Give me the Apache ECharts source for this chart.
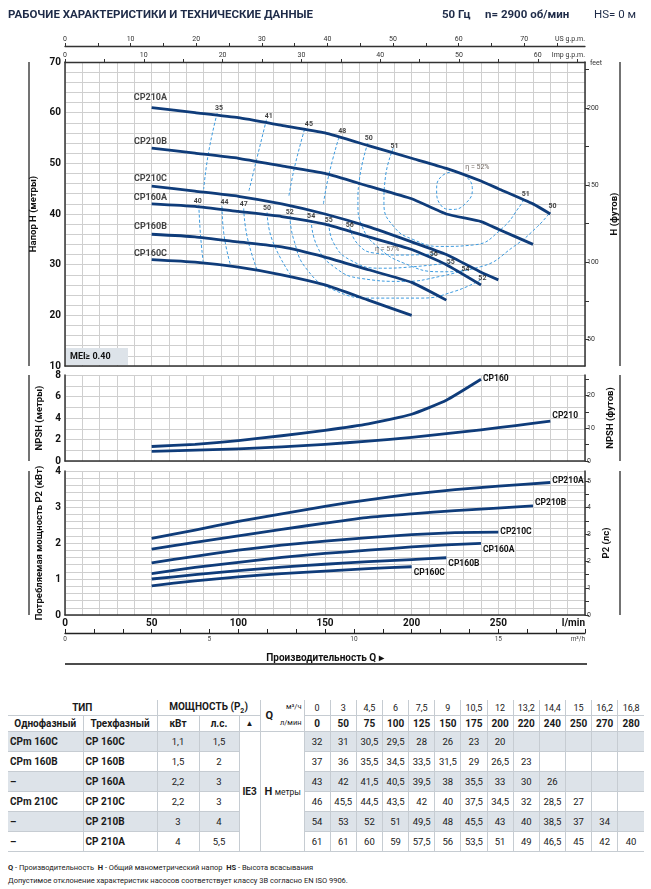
<!DOCTYPE html>
<html>
<head>
<meta charset="utf-8">
<title>CP 160 / CP 210</title>
<script src="https://cdn.jsdelivr.net/npm/echarts@6.0.0/dist/echarts.min.js"></script>
<style>
  body { margin: 0; background: #fff; width: 651px; height: 889px; overflow: hidden; font-family: Roboto, "Open Sans", sans-serif; color: #1a1a1a; }
  #chart { position: absolute; left: 0; top: 0; width: 651px; height: 700px; }
  #tbl { position: absolute; left: 8px; top: 700px; width: 636px; border-collapse: collapse; table-layout: fixed; }
  #tbl td { border: 1px solid #c6ccd2; padding: 0; text-align: center; font-size: 9.5px; height: 19px; white-space: nowrap; overflow: hidden; }
  #tbl tr.ha td { height: 15px; border-top: none; border-bottom: none; font-weight: bold; font-size: 10px; }
  #tbl tr.ha td.m3 { font-weight: normal; font-size: 9px; }
  #tbl tr.hb td { height: 15px; font-weight: bold; font-size: 10px; }
  #tbl tr.shade td { background: #dde3e9; }
  #tbl td.name { text-align: left; padding-left: 2px; font-weight: bold; font-size: 10px; }
  #tbl td.first { border-left: none; }
  #tbl td.last { border-right: none; }
  #tbl td.merged { background: #fff !important; font-weight: bold; position: relative; }
  .qq { position: absolute; left: 5px; top: 9px; font-size: 11px; font-weight: bold; }
  .u1 { position: absolute; right: 2px; top: 2px; font-size: 7.5px; font-weight: normal; }
  .u2 { position: absolute; right: 2px; top: 18px; font-size: 7.5px; font-weight: normal; }
  .note { position: absolute; left: 8px; font-size: 7.5px; color: #222; white-space: nowrap; }
</style>
</head>
<body>
<div id="chart"></div>
<table id="tbl"></table>
<div class="note" style="top:863px"><b>Q</b> - Производительность &nbsp;<b>H</b> - Общий манометрический напор &nbsp;<b>HS</b> - Высота всасывания</div>
<div class="note" style="top:876px">Допустимое отклонение характеристик насосов соответствует классу 3B согласно EN ISO 9906.</div>
<script>
// ---- data (l/min, m, kW) ----
var tableQm3 = ['0', '3', '4,5', '6', '7,5', '9', '10,5', '12', '13,2', '14,4', '15', '16,2', '16,8'];
var tableQlmin = [0, 50, 75, 100, 125, 150, 175, 200, 220, 240, 250, 270, 280];

var headCP160C = [32, 31, 30.5, 29.5, 28, 26, 23, 20];
var headCP160B = [37, 36, 35.5, 34.5, 33.5, 31.5, 29, 26.5, 23];
var headCP160A = [43, 42, 41.5, 40.5, 39.5, 38, 35.5, 33, 30, 26];
var headCP210C = [46, 45.5, 44.5, 43.5, 42, 40, 37.5, 34.5, 32, 28.5, 27];
var headCP210B = [54, 53, 52, 51, 49.5, 48, 45.5, 43, 40, 38.5, 37, 34];
var headCP210A = [61, 61, 60, 59, 57.5, 56, 53.5, 51, 49, 46.5, 45, 42, 40];

var pumpsMono = ['CPm 160C', 'CPm 160B', '–', 'CPm 210C', '–', '–'];
var pumpsTri = ['CP 160C', 'CP 160B', 'CP 160A', 'CP 210C', 'CP 210B', 'CP 210A'];
var powerKw = ['1,1', '1,5', '2,2', '2,2', '3', '4'];
var powerHp = ['1,5', '2', '3', '3', '4', '5,5'];

// efficiency iso-lines [Q l/min, H m]
var eff210_35 = [[87.8, 59.9], [82.9, 52.3], [80.0, 44.9]];
var eff210_41 = [[116.2, 58.6], [110.5, 50.7], [106, 44.4]];
var eff210_45 = [[138.2, 56.7], [132.4, 49.2], [129.1, 43.4]];
var eff210_48 = [[158, 55.1], [152.2, 47.7], [149, 41.8]];
var eff210_50 = [[174.7, 54.0], [170.1, 47.4], [169, 42.1], [171.5, 37.5], [180.1, 33.6], [195.5, 30.3], [216.7, 28.6], [239.8, 29.6], [259, 33.6], [272.5, 37.5], [279.8, 40.3]];
var eff210_51 = [[189.4, 53.0], [184.9, 47.4], [184, 42.1], [189.7, 37.5], [201.3, 34.9], [216.7, 33.6], [235.9, 33.9], [251.3, 36.9], [262.9, 41.8], [264.8, 43.1]];
var eff210_52 = [[224.4, 48.4], [231.7, 47.3], [235, 44.8], [231.1, 42.1], [223.4, 40.9], [216.7, 41.8], [214.4, 44.8], [217.1, 47.4], [224.4, 48.4]];
var eff160_40 = [[77.2, 41.8], [78.1, 36.2], [79.7, 30.6]];
var eff160_44 = [[90.6, 41.5], [91.6, 36.2], [95.4, 30.0]];
var eff160_47 = [[103.1, 41.1], [105.1, 35.5], [110.8, 29.0]];
var eff160_50 = [[116.6, 40.3], [119.5, 34.9], [130.1, 28.0]];
var eff160_52 = [[129.7, 39.6], [132, 34.9], [139.7, 29.0], [155.1, 25.0], [178.2, 23.4], [205.1, 23.4], [224.4, 24.7], [239.8, 27.0]];
var eff160_54 = [[142, 38.8], [145.5, 33.6], [155.1, 29.6], [170.5, 27.3], [195.5, 26.7], [216.7, 27.7], [231.1, 29.0]];
var eff160_55 = [[152.2, 38.2], [155.1, 34.2], [164.7, 30.9], [182, 29.3], [201.3, 29.6], [222.5, 30.4]];
var eff160_56 = [[164.3, 37.4], [168.6, 34.2], [178.2, 32.3], [195.5, 31.9], [212.8, 32.1]];

var effLabels = [
  [88.9, 60.9, '35'], [117.6, 59.3, '41'], [140.7, 57.7, '45'], [159.9, 56.3, '48'], [175.3, 55.0, '50'], [190.1, 53.3, '51'],
  [265.8, 43.9, '51'], [281.2, 41.5, '50'],
  [76.6, 42.6, '40'], [92, 42.3, '44'], [103.1, 42.0, '47'], [116.6, 41.1, '50'], [129.7, 40.3, '52'], [142, 39.5, '54'],
  [152.2, 38.7, '55'], [164.3, 37.7, '56'],
  [212.8, 32.1, '56'], [222.5, 30.4, '55'], [231.1, 29.1, '54'], [240.8, 27.3, '52']
];
var etaLabels = [[185.9, 33.1, 'η = 57%'], [237.9, 49.2, 'η = 52%']];
var headNames = [[49.3, 62.9, 'CP210A'], [49.3, 54.3, 'CP210B'], [49.3, 46.9, 'CP210C'], [49.3, 43.2, 'CP160A'], [49.3, 37.4, 'CP160B'], [49.3, 32.1, 'CP160C']];

// NPSH (m)
var npshQ160 = [50, 75, 100, 125, 150, 175, 200, 220, 240];
var npshCP160 = [1.35, 1.55, 1.9, 2.35, 2.85, 3.45, 4.35, 5.65, 7.6];
var npshQ210 = [50, 100, 125, 150, 175, 200, 240, 260, 280];
var npshCP210 = [0.9, 1.13, 1.32, 1.55, 1.85, 2.2, 2.9, 3.3, 3.7];

// power P2 (kW)
var powQ = [50, 75, 100, 125, 150, 175, 200, 225, 250];
var powCP210A = [2.13, 2.36, 2.6, 2.81, 3.02, 3.2, 3.36, 3.48, 3.58];
var powCP210B = [1.83, 2.02, 2.2, 2.38, 2.55, 2.71, 2.81, 2.9, 2.97];
var powCP210C = [1.45, 1.63, 1.8, 1.94, 2.05, 2.15, 2.23, 2.29, 2.3];
var powQ160A = [50, 75, 100, 125, 150, 175, 200, 220, 240];
var powCP160A = [1.15, 1.32, 1.46, 1.6, 1.71, 1.8, 1.89, 1.95, 1.99];
var powQ160B = [50, 75, 100, 125, 150, 175, 200, 220];
var powCP160B = [1.0, 1.12, 1.23, 1.33, 1.41, 1.48, 1.54, 1.59];
var powQ160C = [50, 75, 100, 125, 150, 175, 200];
var powCP160C = [0.81, 0.95, 1.06, 1.15, 1.22, 1.29, 1.34];
var powEnd210A = [280, 3.68];
var powEnd210B = [270, 3.03];

// tick labels
var headMLabels = [10, 20, 30, 40, 50, 60, 70];
var feetLabels = [50, 100, 150, 200];
var feetTicks = [50, 75, 100, 125, 150, 175, 200, 225];
var usGpmLabels = [0, 10, 20, 30, 40, 50, 60, 70];
var usGpmTicks = [0, 5, 10, 15, 20, 25, 30, 35, 40, 45, 50, 55, 60, 65, 70, 75];
var impGpmLabels = [0, 10, 20, 30, 40, 50, 60];
var impGpmTicks = [0, 5, 10, 15, 20, 25, 30, 35, 40, 45, 50, 55, 60, 65];
var npshMLabels = [0, 2, 4, 6, 8];
var npshFtLabels = [0, 10, 20];
var npshFtTicks = [0, 5, 10, 15, 20, 25];
var kwLabels = [0, 1, 2, 3, 4];
var hpLabels = [0, 1, 2, 3, 4, 5];
var hpTicks = [0, 0.5, 1, 1.5, 2, 2.5, 3, 3.5, 4, 4.5, 5];
var lminLabels = [0, 50, 100, 150, 200, 250, 300];
var m3hLabels = [0, 5, 10, 15, 18];

var FONT = 'Roboto';
var CURVE = '#0f3c7a';
var EFF = '#3c9be0';
var GRIDLINE = '#cfcfcf';
var AXIS = '#333';
var M_FT = 3.28084;

function pairs(xs, ys) {
  var out = [];
  for (var i = 0; i < ys.length; i++) out.push([xs[i], ys[i]]);
  return out;
}

function headSeries(name, h) {
  return {
    name: name, type: 'line', xAxisIndex: 0, yAxisIndex: 0,
    data: pairs(tableQlmin.slice(1), h.slice(1)),
    smooth: 0.15, symbol: 'none',
    lineStyle: { color: CURVE, width: 2.8, join: 'round' }, z: 4
  };
}

function effSeries(d) {
  return {
    type: 'line', xAxisIndex: 0, yAxisIndex: 0, data: d, smooth: 0.5, symbol: 'none',
    lineStyle: { color: EFF, width: 1, type: [3, 2] }, z: 2, silent: true
  };
}

function curveSeries(name, xs, ys, xi, yi, dy) {
  return {
    name: name, type: 'line', xAxisIndex: xi, yAxisIndex: yi,
    data: pairs(xs, ys), smooth: 0.15, symbol: 'none',
    lineStyle: { color: CURVE, width: 2.8, join: 'round' }, z: 4,
    endLabel: { show: true, formatter: name, distance: 2, offset: [0, dy],
      fontSize: 8.5, fontWeight: 'bold', color: '#111', fontFamily: FONT }
  };
}

function textScatter(d, size, weight, color) {
  return {
    type: 'scatter', xAxisIndex: 0, yAxisIndex: 0, data: d, symbolSize: 1,
    itemStyle: { color: 'rgba(0,0,0,0)' }, z: 6, silent: true,
    label: { show: true, position: 'inside', formatter: function (p) { return p.value[2]; },
      fontSize: size, fontWeight: weight, color: color, fontFamily: FONT }
  };
}

function bottomAxis(grid) {
  return {
    gridIndex: grid, type: 'value', min: 0, max: 300, interval: 10,
    axisLine: { onZero: false, lineStyle: { color: AXIS, width: 1.5 } },
    axisTick: { show: false }, axisLabel: { show: false },
    splitLine: { lineStyle: { color: GRIDLINE, width: 1 } }
  };
}

function leftAxis(grid, min, max, interval, labels, name, gap) {
  return {
    gridIndex: grid, type: 'value', position: 'left', min: min, max: max, interval: interval,
    axisLine: { show: true, onZero: false, lineStyle: { color: AXIS, width: 1.5 } },
    axisTick: { show: false },
    axisLabel: { customValues: labels, fontSize: 10, fontWeight: 'bold', color: '#111', margin: 4, fontFamily: FONT },
    splitLine: { lineStyle: { color: GRIDLINE, width: 1 } },
    name: name, nameLocation: 'middle', nameGap: gap, nameRotate: 90,
    nameTextStyle: { fontSize: 9.5, fontWeight: 'bold', color: '#111', fontFamily: FONT }
  };
}

function rightAxis(grid, max, labels, ticks, name, gap, min) {
  return {
    gridIndex: grid, type: 'value', position: 'right', min: min || 0, max: max,
    axisLine: { show: true, onZero: false, lineStyle: { color: AXIS, width: 1.5 } },
    axisTick: { show: true, customValues: ticks, length: 4, lineStyle: { color: AXIS } },
    axisLabel: { customValues: labels, fontSize: 7, color: '#333', margin: 2, fontFamily: FONT },
    splitLine: { show: false },
    name: name, nameLocation: 'middle', nameGap: gap, nameRotate: 90,
    nameTextStyle: { fontSize: 9.5, fontWeight: 'bold', color: '#111', fontFamily: FONT }
  };
}

function topAxis(offset, max, labels, ticks, name) {
  return {
    gridIndex: 0, type: 'value', position: 'top', offset: offset, min: 0, max: max,
    axisLine: { onZero: false, lineStyle: { color: AXIS, width: 1.3 } },
    axisTick: { show: true, customValues: ticks, length: 3, lineStyle: { color: AXIS } },
    axisLabel: { customValues: labels, fontSize: 7, color: '#333', margin: 3, fontFamily: FONT },
    splitLine: { show: false },
    name: name, nameLocation: 'end', nameGap: 0,
    nameTextStyle: { align: 'right', verticalAlign: 'bottom', padding: [0, 0, 3, 0], fontSize: 7, color: '#333', fontFamily: FONT }
  };
}

var xAxes = [
  bottomAxis(0),
  topAxis(16, 300 / 3.785, usGpmLabels, usGpmTicks, 'US g.p.m.'),
  topAxis(0, 300 / 4.546, impGpmLabels, impGpmTicks, 'Imp g.p.m.'),
  bottomAxis(1),
  bottomAxis(2),
  {
    gridIndex: 2, type: 'value', position: 'bottom', offset: 18, min: 0, max: 18, interval: 1,
    axisLine: { onZero: false, lineStyle: { color: '#222', width: 1.3 } },
    axisTick: { show: true, inside: true, length: 4, lineStyle: { color: '#222' } },
    axisLabel: { customValues: m3hLabels, fontSize: 6.5, color: '#444', margin: 3, alignMaxLabel: 'right', fontFamily: FONT,
      formatter: function (v) { return v === 18 ? 'm³/h' : v; } },
    splitLine: { show: false },
    name: 'Производительность Q ▸', nameLocation: 'middle', nameGap: 20,
    nameTextStyle: { fontSize: 10, fontWeight: 'bold', color: '#111', fontFamily: FONT }
  }
];
xAxes[4].axisLabel = { show: true, customValues: lminLabels, fontSize: 10, fontWeight: 'bold', color: '#111', margin: 3,
  alignMaxLabel: 'right', fontFamily: FONT, formatter: function (v) { return v === 300 ? 'l/min' : v; } };

var yAxes = [
  leftAxis(0, 10, 70, 2, headMLabels, 'Напор H (метры)', 20),
  rightAxis(0, 70 * M_FT, feetLabels, feetTicks, 'H (футов)', 20, 10 * M_FT),
  leftAxis(1, 0, 8, 1, npshMLabels, 'NPSH (метры)', 16),
  rightAxis(1, 8 * M_FT, npshFtLabels, npshFtTicks, 'NPSH (футов)', 16),
  leftAxis(2, 0, 4, 0.2, kwLabels, 'Потребляемая мощность P2 (кВт)', 16),
  rightAxis(2, 4 * 1.341, hpLabels, hpTicks, 'P2 (лс)', 16)
];

var series = [
  eff210_35, eff210_41, eff210_45, eff210_48, eff210_50, eff210_51, eff210_52,
  eff160_40, eff160_44, eff160_47, eff160_50, eff160_52, eff160_54, eff160_55, eff160_56
].map(effSeries);

series.push(
  headSeries('CP160C', headCP160C),
  headSeries('CP160B', headCP160B),
  headSeries('CP160A', headCP160A),
  headSeries('CP210C', headCP210C),
  headSeries('CP210B', headCP210B),
  headSeries('CP210A', headCP210A),
  textScatter(effLabels, 7, 'bold', '#111'),
  textScatter(etaLabels, 7, 'normal', '#4a3f36'),
  textScatter(headNames, 9, 'bold', '#111'),
  curveSeries('CP160', npshQ160, npshCP160, 3, 2, 0),
  curveSeries('CP210', npshQ210, npshCP210, 3, 2, -5),
  curveSeries('CP210A', powQ.concat([powEnd210A[0]]), powCP210A.concat([powEnd210A[1]]), 4, 4, -2),
  curveSeries('CP210B', powQ.slice(0, 8).concat([powEnd210B[0]]), powCP210B.slice(0, 8).concat([powEnd210B[1]]), 4, 4, -3),
  curveSeries('CP210C', powQ, powCP210C, 4, 4, 0),
  curveSeries('CP160A', powQ160A, powCP160A, 4, 4, 7),
  curveSeries('CP160B', powQ160B, powCP160B, 4, 4, 6),
  curveSeries('CP160C', powQ160C, powCP160C, 4, 4, 6)
);

function vline(x, y1, y2) {
  return { type: 'line', shape: { x1: x, y1: y1, x2: x, y2: y2 }, style: { stroke: '#444', lineWidth: 1.5 } };
}

var graphics = [
  vline(29, 62, 366), vline(29, 375, 461), vline(29, 471, 615),
  vline(620, 62, 366), vline(620, 375, 461), vline(620, 471, 615),
  { type: 'line', shape: { x1: 65, y1: 664, x2: 587, y2: 664 }, style: { stroke: '#111', lineWidth: 1.5 } },
  { type: 'rect', z: 100, shape: { x: 66, y: 348, width: 62, height: 17 }, style: { fill: '#dde3e9' } },
  { type: 'text', z: 101, x: 70, y: 357, style: { text: 'MEI≥ 0.40', font: 'bold 9px Roboto', fill: '#111', verticalAlign: 'middle' } },
  { type: 'text', x: 590, y: 63, style: { text: 'feet', font: '7px Roboto', fill: '#333', verticalAlign: 'middle' } },
  { type: 'text', x: 8, y: 15, style: { text: 'РАБОЧИЕ ХАРАКТЕРИСТИКИ И ТЕХНИЧЕСКИЕ ДАННЫЕ', font: 'bold 11.5px Roboto', fill: '#1e2b48', verticalAlign: 'middle' } },
  { type: 'text', x: 442, y: 15, style: { text: '50 Гц', font: 'bold 11.5px Roboto', fill: '#1e2b48', verticalAlign: 'middle' } },
  { type: 'text', x: 485, y: 15, style: { text: 'n= 2900 об/мин', font: 'bold 11.5px Roboto', fill: '#1e2b48', verticalAlign: 'middle' } },
  { type: 'text', x: 594, y: 15, style: { text: 'HS= 0 м', font: '11.5px Roboto', fill: '#1e2b48', verticalAlign: 'middle' } }
];

var myChart = echarts.init(document.getElementById('chart'));
myChart.setOption({
  animation: false,
  textStyle: { fontFamily: FONT },
  grid: [
    { left: 65, top: 62, width: 520, height: 304 },
    { left: 65, top: 375, width: 520, height: 86 },
    { left: 65, top: 471, width: 520, height: 144 }
  ],
  xAxis: xAxes,
  yAxis: yAxes,
  series: series,
  graphic: graphics
});

// ---- table ----
var headRows = [headCP160C, headCP160B, headCP160A, headCP210C, headCP210B, headCP210A];
function fmt(v) { return String(v).replace('.', ','); }
var colW = [75, 74, 42, 40, 21, 44];
var html = '<colgroup>';
colW.forEach(function (w) { html += '<col style="width:' + w + 'px">'; });
for (var c = 0; c < tableQlmin.length; c++) html += '<col style="width:26.15px">';
html += '</colgroup>';

html += '<tr class="ha"><td colspan="2" class="first">ТИП</td><td colspan="3">МОЩНОСТЬ (P<sub style="font-size:7px">2</sub>)</td>' +
  '<td rowspan="2" class="merged"><span class="qq">Q</span><span class="u1">м³/ч</span><span class="u2">л/мин</span></td>';
tableQm3.forEach(function (v, i) { html += '<td class="m3' + (i === tableQm3.length - 1 ? ' last' : '') + '">' + v + '</td>'; });
html += '</tr>';

html += '<tr class="hb"><td class="first">Однофазный</td><td>Трехфазный</td><td>кВт</td><td>л.с.</td><td style="font-size:8px">▲</td>';
tableQlmin.forEach(function (v, i) { html += '<td' + (i === tableQlmin.length - 1 ? ' class="last"' : '') + '>' + v + '</td>'; });
html += '</tr>';

for (var r = 0; r < pumpsTri.length; r++) {
  html += '<tr' + (r % 2 === 0 ? ' class="shade"' : '') + '>';
  html += '<td class="name first">' + pumpsMono[r] + '</td><td class="name">' + pumpsTri[r] + '</td>';
  html += '<td>' + powerKw[r] + '</td><td>' + powerHp[r] + '</td>';
  if (r === 0) {
    html += '<td rowspan="6" class="merged" style="font-size:10px">IE3</td>';
    html += '<td rowspan="6" class="merged" style="text-align:left;padding-left:4px"><span style="font-size:11px">H</span> <span style="font-weight:normal;font-size:8.5px">метры</span></td>';
  }
  for (var k = 0; k < tableQlmin.length; k++) {
    var v = headRows[r][k];
    html += '<td' + (k === tableQlmin.length - 1 ? ' class="last"' : '') + '>' + (v === undefined ? '' : fmt(v)) + '</td>';
  }
  html += '</tr>';
}
document.getElementById('tbl').innerHTML = html;
</script>
</body>
</html>
